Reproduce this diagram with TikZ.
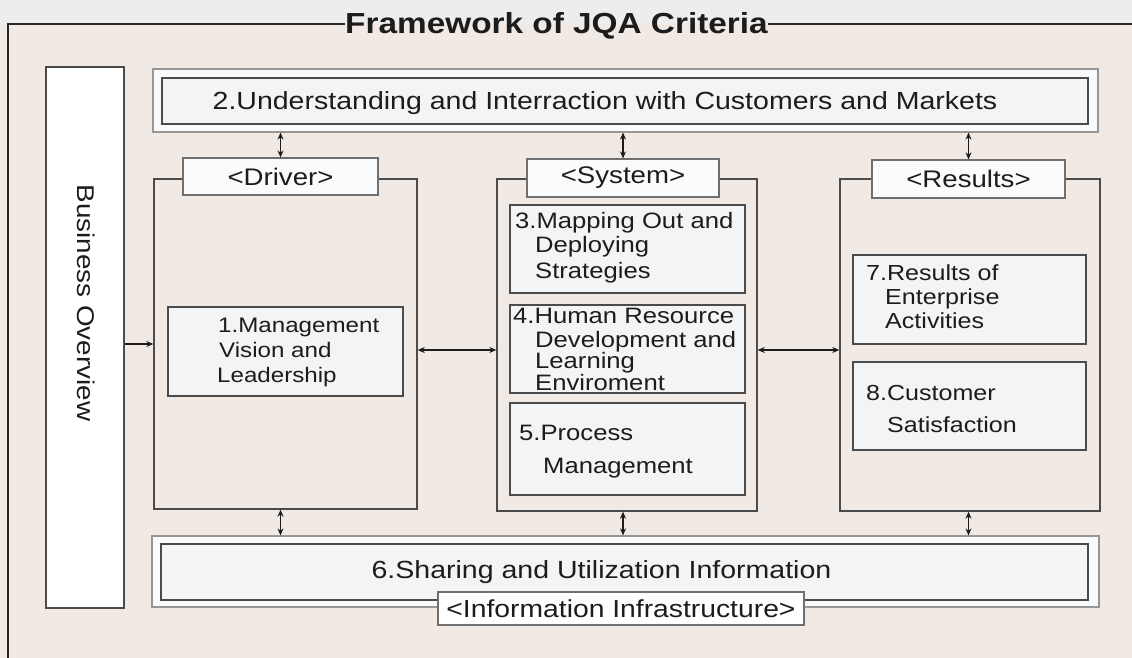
\documentclass[tikz,border=0pt]{standalone}
\usepackage{fontspec}
\setmainfont[FakeStretch=1.15]{Liberation Sans}
\usetikzlibrary{arrows.meta,calc}
\definecolor{bgc}{RGB}{241,233,228}
\definecolor{topbg}{RGB}{236,237,237}
\definecolor{lnc}{RGB}{75,75,75}
\definecolor{boxfill}{RGB}{243,244,245}
\definecolor{txtc}{RGB}{28,28,28}
\definecolor{outc}{RGB}{150,150,150}
\begin{document}
\begin{tikzpicture}[x=1pt,y=-1pt,
  every node/.style={text=txtc},
  colbox/.style={draw=lnc,line width=1.4pt,rectangle,inner sep=0pt},
  lblbox/.style={draw=lnc!80,line width=1.2pt,fill=white!97!gray,rectangle,inner sep=0pt,font=\fontsize{24}{28}\selectfont},
  inbox/.style={draw=lnc,line width=1.4pt,fill=boxfill,rectangle,inner sep=0pt},
  outbox/.style={draw=outc,line width=1.2pt,fill=white!96!gray,rectangle,inner sep=0pt},
  bantxt/.style={font=\fontsize{24.8}{28}\selectfont,inner sep=0pt,anchor=base},
  ltxt/.style={font=\fontsize{22.3}{26}\selectfont,inner sep=0pt,anchor=base west},
  arr/.style={draw=txtc,line width=1.2pt,-{Stealth[length=7pt,width=6pt]}},
  darr/.style={draw=txtc,line width=1.2pt,{Stealth[length=7pt,width=6pt]}-{Stealth[length=7pt,width=6pt]}}]
\useasboundingbox (0,0) rectangle (1132,658);
\fill[bgc] (0,0) rectangle (1132,658);
\fill[topbg] (0,0) rectangle (1132,24);
% title and frame
\node[font=\bfseries\fontsize{29}{32}\selectfont,inner sep=0pt,anchor=base] (title) at (556.5,34) {Framework of JQA Criteria};
\draw[line width=1.8pt,draw=black!85] (8,658) -- (8,24) -- (title.west |- 0,24);
\draw[line width=1.8pt,draw=black!85] (title.east |- 0,24) -- (1132,24);
% business overview
\node[draw=lnc,line width=1.4pt,fill=white,rectangle,inner sep=0pt,minimum width=78,minimum height=541] (bo) at (85,337.5) {};
\node[rotate=-90,font=\fontsize{24.2}{28}\selectfont,inner sep=0pt] (botxt) at (86,303) {Business Overview};
% top banner
\node[outbox,minimum width=945,minimum height=63] (b2o) at (625.5,100.5) {};
\node[inbox,minimum width=926,minimum height=46] (b2) at (625,101) {};
\node[bantxt] (b2t) at (605,110) {2.Understanding and Interraction with Customers and Markets};
% columns
\node[colbox,minimum width=263,minimum height=330] (drv) at (285.5,344) {};
\node[colbox,minimum width=260,minimum height=332] (sys) at (627,345) {};
\node[colbox,minimum width=260,minimum height=332] (res) at (970,345) {};
\node[lblbox,minimum width=195,minimum height=37] (drvl) at (280.5,176.5) {<Driver>};
\node[lblbox,minimum width=192,minimum height=38] (sysl) at (623,178) {<System>};
\node[lblbox,minimum width=193,minimum height=38] (resl) at (968.5,179) {<Results>};
% inner boxes
\node[inbox,minimum width=235,minimum height=89] (b1) at (285.5,351.5) {};
\node[inbox,minimum width=235,minimum height=88] (b3) at (627.5,249) {};
\node[inbox,minimum width=235,minimum height=88] (b4) at (627.5,349) {};
\node[inbox,minimum width=235,minimum height=92] (b5) at (627.5,449) {};
\node[inbox,minimum width=233,minimum height=89] (b7) at (969.5,299.5) {};
\node[inbox,minimum width=233,minimum height=88] (b8) at (969.5,406) {};
% texts
\node[ltxt,font=\fontsize{21}{24}\selectfont] (t1a) at (218,332) {1.Management};
\node[ltxt,font=\fontsize{21}{24}\selectfont] (t1b) at (219,357) {Vision and};
\node[ltxt,font=\fontsize{21}{24}\selectfont] (t1c) at (217,382) {Leadership};
\node[ltxt] (t3a) at (515,228) {3.Mapping Out and};
\node[ltxt] (t3b) at (535,252) {Deploying};
\node[ltxt] (t3c) at (535,278) {Strategies};
\node[ltxt] (t4a) at (513,323) {4.Human Resource};
\node[ltxt] (t4b) at (535,347) {Development and};
\node[ltxt] (t4c) at (535,368) {Learning};
\node[ltxt] (t4d) at (535,390) {Enviroment};
\node[ltxt] (t5a) at (519,440) {5.Process};
\node[ltxt] (t5b) at (543,473) {Management};
\node[ltxt,font=\fontsize{21.8}{26}\selectfont] (t7a) at (866,280) {7.Results of};
\node[ltxt,font=\fontsize{21.8}{26}\selectfont] (t7b) at (885,304) {Enterprise};
\node[ltxt,font=\fontsize{21.8}{26}\selectfont] (t7c) at (885,328) {Activities};
\node[ltxt,font=\fontsize{21.8}{26}\selectfont] (t8a) at (866,400) {8.Customer};
\node[ltxt,font=\fontsize{21.8}{26}\selectfont] (t8b) at (887,432) {Satisfaction};
% bottom banner
\node[outbox,minimum width=947,minimum height=71] (b6o) at (625.5,571.5) {};
\node[inbox,minimum width=927,minimum height=56] (b6) at (624.5,572) {};
\node[bantxt] (b6t) at (601.5,578) {6.Sharing and Utilization Information};
\node[draw=lnc!80,line width=1.2pt,fill=white,rectangle,inner sep=0pt,minimum width=366,minimum height=33,font=\fontsize{24.6}{28}\selectfont] (info) at (621,608.5) {<Information Infrastructure>};
% connectors
\coordinate (by) at (0,344);
\coordinate (hy) at (0,350);
\draw[arr] (bo.east |- by) -- (drv.west |- by);
\draw[darr] (drv.east |- hy) -- (sys.west |- hy);
\draw[darr] (sys.east |- hy) -- (res.west |- hy);
\draw[darr] (drvl.north |- b2o.south) -- (drvl.north);
\draw[darr] (sysl.north |- b2o.south) -- (sysl.north);
\draw[darr] (resl.north |- b2o.south) -- (resl.north);
\draw[darr] (drvl.north |- drv.south) -- (drvl.north |- b6o.north);
\draw[darr] (sysl.north |- sys.south) -- (sysl.north |- b6o.north);
\draw[darr] (resl.north |- res.south) -- (resl.north |- b6o.north);
\end{tikzpicture}
\end{document}
